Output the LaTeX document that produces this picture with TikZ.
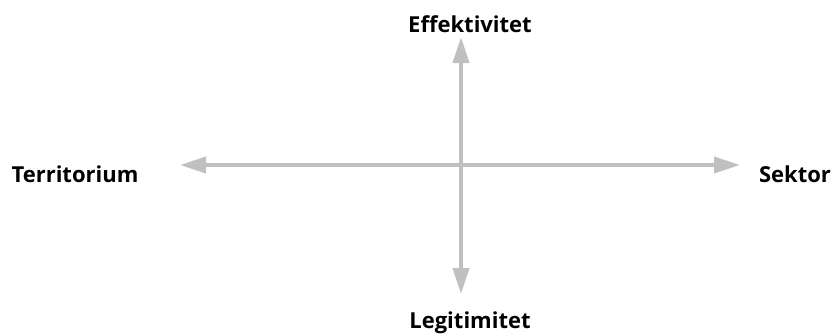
\documentclass[tikz,border=0pt]{standalone}
\usepackage{fontspec}
\setmainfont{Open Sans}
\usetikzlibrary{arrows.meta}
\definecolor{axisgray}{RGB}{192,192,192}
\begin{document}
\begin{tikzpicture}[x=1pt,y=-1pt,line width=4pt]
      \tikzset{axis/.style={draw=axisgray,{Triangle[length=26pt,width=16pt]}-{Triangle[length=26pt,width=16pt]}},
        lbl/.style={font=\bfseries\fontsize{22}{26}\selectfont,anchor=base,inner sep=0pt}}
      \useasboundingbox (0,0) rectangle (834,335);
      \pgfmathsetmacro{\cx}{461}
      \pgfmathsetmacro{\cy}{165}

      \coordinate (N) at (\cx,37);
      \coordinate (S) at (\cx,294);
      \coordinate (W) at (180,\cy);
      \coordinate (E) at (740,\cy);

      \node[lbl] (Eff) at (470,32) {Effektivitet};
      \node[lbl] (Leg) at (470,328) {Legitimitet};
      \node[lbl] (Ter) at (75,182) {Territorium};
      \node[lbl] (Sek) at (795,182) {Sektor};

      \draw[axis] (W) -- (E);
      \draw[axis] (S) -- (N);
    \end{tikzpicture}
\end{document}
